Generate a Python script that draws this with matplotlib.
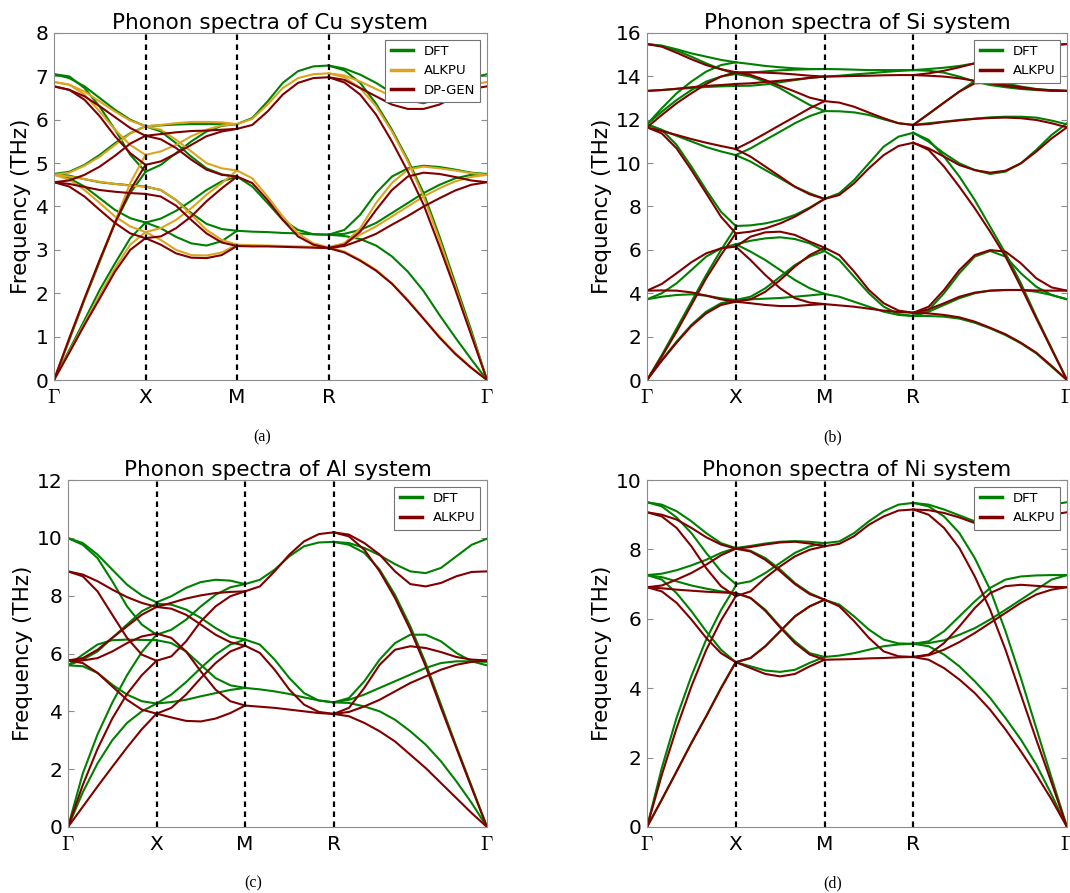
import numpy as np
from matplotlib import pyplot as plt

plt.rcParams['mathtext.fontset'] = 'cm'

# high symmetry path Gamma-X-M-R-Gamma (segment lengths in 2pi/a)
seg_len = [0.5, 0.5, 0.5, 0.866]
kpos = np.concatenate([[0], np.cumsum(seg_len)])
klabels = [r'$\Gamma$', 'X', 'M', 'R', r'$\Gamma$']

# ---------------- Cu (THz) ----------------
cu_dft_gx = [[7.05, 6.96, 6.77, 6.5, 6.23, 6.0, 5.85],
             [7.05, 7.0, 6.73, 6.3, 5.77, 5.19, 4.8],
             [4.75, 4.8, 4.96, 5.19, 5.46, 5.69, 5.85],
             [4.75, 4.71, 4.63, 4.56, 4.52, 4.49, 4.46],
             [4.75, 4.65, 4.46, 4.19, 3.92, 3.73, 3.63],
             [0, 0.92, 1.85, 2.73, 3.62, 4.31, 4.8],
             [0, 0.69, 1.38, 2.08, 2.69, 3.27, 3.63]]
cu_dft_xm = [[5.85, 5.87, 5.89, 5.9, 5.9, 5.9, 5.9],
             [5.85, 5.73, 5.46, 5.15, 4.88, 4.74, 4.69],
             [4.8, 4.96, 5.23, 5.5, 5.73, 5.86, 5.9],
             [4.46, 4.38, 4.15, 3.85, 3.6, 3.48, 3.44],
             [3.63, 3.72, 3.9, 4.13, 4.38, 4.58, 4.69],
             [3.63, 3.5, 3.3, 3.15, 3.1, 3.2, 3.44]]
cu_dft_mr = [[5.9, 6.04, 6.42, 6.85, 7.12, 7.23, 7.25],
             [4.69, 4.46, 4.08, 3.69, 3.46, 3.36, 3.35],
             [3.44, 3.42, 3.41, 3.39, 3.38, 3.36, 3.35]]
cu_dft_rg = [[7.25, 7.18, 7.04, 6.85, 6.62, 6.45, 6.38, 6.5, 6.73, 6.96, 7.05],
             [7.25, 7.14, 6.85, 6.37, 5.77, 5.08, 4.31, 3.31, 2.23, 1.15, 0],
             [3.35, 3.46, 3.81, 4.31, 4.69, 4.88, 4.94, 4.91, 4.85, 4.78, 4.75],
             [3.35, 3.37, 3.46, 3.62, 3.85, 4.08, 4.31, 4.5, 4.65, 4.73, 4.75],
             [3.35, 3.32, 3.25, 3.1, 2.85, 2.5, 2.05, 1.5, 0.98, 0.48, 0]]

cu_alk_gx = [[6.87, 6.81, 6.65, 6.42, 6.19, 5.98, 5.85],
             [6.87, 6.81, 6.58, 6.19, 5.77, 5.42, 5.19],
             [4.73, 4.78, 4.94, 5.15, 5.42, 5.68, 5.85],
             [4.73, 4.69, 4.63, 4.57, 4.52, 4.48, 4.46],
             [4.73, 4.62, 4.38, 4.08, 3.77, 3.54, 3.41],
             [0, 0.96, 1.88, 2.77, 3.65, 4.54, 5.19],
             [0, 0.65, 1.31, 1.96, 2.58, 3.12, 3.41]]
cu_alk_xm = [[5.85, 5.88, 5.92, 5.95, 5.95, 5.94, 5.9],
             [5.85, 5.77, 5.54, 5.27, 5.0, 4.88, 4.83],
             [5.19, 5.27, 5.42, 5.62, 5.77, 5.87, 5.9],
             [4.46, 4.38, 4.15, 3.81, 3.46, 3.23, 3.12],
             [3.41, 3.5, 3.69, 3.96, 4.27, 4.54, 4.83],
             [3.41, 3.23, 3.0, 2.88, 2.87, 2.94, 3.12]]
cu_alk_mr = [[5.9, 6.02, 6.35, 6.73, 6.96, 7.05, 7.07],
             [4.83, 4.65, 4.23, 3.77, 3.38, 3.15, 3.06],
             [3.12, 3.11, 3.1, 3.09, 3.08, 3.07, 3.06]]
cu_alk_rg = [[7.07, 7.02, 6.88, 6.71, 6.54, 6.45, 6.42, 6.5, 6.65, 6.81, 6.87],
             [7.07, 6.98, 6.73, 6.31, 5.73, 5.04, 4.23, 3.23, 2.15, 1.08, 0],
             [3.06, 3.15, 3.5, 4.08, 4.54, 4.85, 4.92, 4.88, 4.83, 4.77, 4.73],
             [3.06, 3.15, 3.35, 3.54, 3.77, 4.0, 4.23, 4.42, 4.58, 4.68, 4.73],
             [3.06, 2.96, 2.77, 2.54, 2.23, 1.85, 1.42, 1.0, 0.62, 0.29, 0]]

cu_dp_gx = [[6.77, 6.69, 6.54, 6.31, 6.06, 5.81, 5.63],
            [6.77, 6.69, 6.46, 6.08, 5.62, 5.23, 4.96],
            [4.56, 4.6, 4.73, 4.92, 5.17, 5.45, 5.63],
            [4.56, 4.52, 4.45, 4.38, 4.34, 4.31, 4.29],
            [4.56, 4.46, 4.23, 3.92, 3.62, 3.38, 3.27],
            [0, 0.96, 1.88, 2.77, 3.62, 4.38, 4.96],
            [0, 0.63, 1.27, 1.88, 2.5, 3.0, 3.27]]
cu_dp_xm = [[5.63, 5.67, 5.71, 5.74, 5.75, 5.77, 5.79],
            [5.63, 5.55, 5.35, 5.08, 4.85, 4.73, 4.69],
            [4.96, 5.04, 5.22, 5.42, 5.62, 5.73, 5.79],
            [4.29, 4.23, 4.02, 3.69, 3.38, 3.17, 3.09],
            [3.27, 3.31, 3.5, 3.77, 4.12, 4.42, 4.69],
            [3.27, 3.12, 2.92, 2.82, 2.81, 2.88, 3.09]]
cu_dp_mr = [[5.79, 5.88, 6.19, 6.58, 6.85, 6.96, 6.98],
            [4.69, 4.54, 4.15, 3.69, 3.31, 3.12, 3.04],
            [3.09, 3.08, 3.08, 3.07, 3.06, 3.05, 3.04]]
cu_dp_rg = [[6.98, 6.92, 6.73, 6.54, 6.35, 6.25, 6.25, 6.35, 6.54, 6.71, 6.77],
            [6.98, 6.86, 6.58, 6.12, 5.5, 4.81, 4.04, 3.08, 2.08, 1.04, 0],
            [3.04, 3.12, 3.42, 3.92, 4.38, 4.69, 4.78, 4.75, 4.68, 4.6, 4.56],
            [3.04, 3.09, 3.22, 3.37, 3.58, 3.78, 4.0, 4.19, 4.37, 4.5, 4.56],
            [3.04, 2.94, 2.75, 2.52, 2.22, 1.83, 1.41, 0.98, 0.6, 0.28, 0]]

# ---------------- Si (THz) ----------------
si_dft_gx = [[15.49, 15.42, 15.25, 15.06, 14.91, 14.76, 14.65],
             [15.49, 15.4, 15.19, 14.91, 14.6, 14.33, 14.11],
             [13.33, 13.37, 13.42, 13.46, 13.51, 13.54, 13.56],
             [11.79, 12.53, 13.22, 13.76, 14.22, 14.52, 14.65],
             [11.79, 12.37, 12.91, 13.37, 13.76, 13.99, 14.11],
             [11.79, 11.53, 11.26, 11.0, 10.74, 10.54, 10.37],
             [11.79, 11.53, 10.84, 9.84, 8.76, 7.76, 7.1],
             [3.72, 4.0, 4.46, 5.07, 5.69, 6.07, 6.26],
             [3.72, 3.84, 3.92, 3.95, 3.89, 3.77, 3.69],
             [0, 1.15, 2.38, 3.61, 4.84, 5.99, 7.05],
             [0, 0.92, 1.77, 2.54, 3.15, 3.54, 3.69]]
si_dft_xm = [[14.65, 14.57, 14.48, 14.42, 14.37, 14.34, 14.34],
             [14.11, 14.17, 14.23, 14.28, 14.31, 14.33, 14.34],
             [14.11, 13.99, 13.76, 13.45, 13.06, 12.68, 12.4],
             [13.56, 13.57, 13.63, 13.73, 13.83, 13.93, 13.99],
             [10.37, 10.68, 11.07, 11.45, 11.84, 12.17, 12.4],
             [10.37, 10.07, 9.68, 9.3, 8.91, 8.61, 8.35],
             [7.1, 7.13, 7.22, 7.38, 7.61, 7.95, 8.35],
             [6.26, 6.42, 6.53, 6.58, 6.5, 6.3, 5.95],
             [6.26, 5.92, 5.53, 5.07, 4.61, 4.23, 3.97],
             [3.69, 3.84, 4.23, 4.76, 5.3, 5.69, 5.95],
             [3.69, 3.72, 3.75, 3.78, 3.84, 3.9, 3.97]]
si_dft_mr = [[14.34, 14.33, 14.31, 14.29, 14.29, 14.29, 14.29],
             [13.99, 14.03, 14.09, 14.14, 14.2, 14.25, 14.29],
             [12.4, 12.39, 12.34, 12.22, 12.02, 11.84, 11.76],
             [8.35, 8.61, 9.22, 9.99, 10.76, 11.22, 11.4],
             [5.95, 5.53, 4.76, 4.0, 3.38, 3.04, 2.95],
             [3.97, 3.84, 3.61, 3.38, 3.15, 3.0, 2.95]]
si_dft_rg = [[14.29, 14.34, 14.4, 14.48, 14.6, 14.76, 14.94, 15.12, 15.29, 15.43, 15.49],
             [14.29, 14.26, 14.17, 13.99, 13.76, 13.6, 13.5, 13.42, 13.37, 13.34, 13.33],
             [11.76, 12.27, 12.79, 13.3, 13.79, 13.83, 13.68, 13.53, 13.42, 13.36, 13.33],
             [11.76, 11.84, 11.91, 11.99, 12.05, 12.11, 12.14, 12.14, 12.1, 11.96, 11.79],
             [11.4, 10.99, 10.45, 9.99, 9.68, 9.5, 9.61, 9.99, 10.61, 11.3, 11.84],
             [11.4, 11.07, 10.3, 9.38, 8.3, 7.07, 5.84, 4.46, 2.92, 1.46, 0],
             [2.95, 3.23, 4.0, 4.92, 5.69, 5.95, 5.69, 4.92, 4.3, 3.92, 3.72],
             [2.95, 3.15, 3.46, 3.77, 4.0, 4.12, 4.15, 4.15, 4.07, 3.92, 3.72],
             [2.95, 2.95, 2.92, 2.83, 2.64, 2.38, 2.07, 1.69, 1.23, 0.61, 0]]

si_alk_gx = [[15.49, 15.37, 15.09, 14.79, 14.52, 14.33, 14.19],
             [13.33, 13.37, 13.43, 13.5, 13.56, 13.6, 13.65],
             [11.65, 12.22, 12.76, 13.22, 13.65, 13.99, 14.19],
             [11.65, 11.48, 11.3, 11.11, 10.94, 10.79, 10.65],
             [11.65, 11.37, 10.68, 9.68, 8.61, 7.53, 6.76],
             [4.12, 4.43, 4.92, 5.43, 5.84, 6.07, 6.15],
             [4.12, 4.13, 4.12, 4.04, 3.89, 3.72, 3.61],
             [0, 1.08, 2.23, 3.46, 4.69, 5.76, 6.76],
             [0, 0.89, 1.72, 2.49, 3.07, 3.46, 3.61]]
si_alk_xm = [[14.19, 14.19, 14.17, 14.14, 14.09, 14.03, 13.99],
             [14.19, 14.06, 13.83, 13.56, 13.3, 13.02, 12.86],
             [13.65, 13.68, 13.74, 13.8, 13.86, 13.93, 13.99],
             [10.65, 10.99, 11.37, 11.76, 12.14, 12.53, 12.86],
             [10.65, 10.3, 9.84, 9.38, 8.91, 8.56, 8.35],
             [6.76, 6.84, 6.99, 7.22, 7.53, 7.92, 8.35],
             [6.15, 6.61, 6.81, 6.84, 6.69, 6.38, 6.1],
             [6.15, 5.53, 4.84, 4.23, 3.77, 3.57, 3.5],
             [3.61, 3.72, 4.07, 4.61, 5.23, 5.76, 6.1],
             [3.61, 3.54, 3.46, 3.41, 3.41, 3.46, 3.5]]
si_alk_mr = [[13.99, 14.0, 14.02, 14.03, 14.05, 14.06, 14.06],
             [12.86, 12.79, 12.6, 12.33, 12.07, 11.84, 11.76],
             [8.35, 8.53, 9.07, 9.76, 10.37, 10.79, 10.94],
             [6.1, 5.76, 5.0, 4.15, 3.54, 3.2, 3.1],
             [3.5, 3.44, 3.38, 3.29, 3.2, 3.14, 3.1]]
si_alk_rg = [[14.06, 14.14, 14.26, 14.42, 14.6, 14.79, 14.99, 15.17, 15.34, 15.45, 15.49],
             [14.06, 14.03, 13.99, 13.91, 13.8, 13.68, 13.56, 13.46, 13.39, 13.34, 13.33],
             [11.76, 12.27, 12.79, 13.3, 13.68, 13.71, 13.6, 13.5, 13.4, 13.36, 13.33],
             [11.76, 11.8, 11.9, 11.97, 12.04, 12.08, 12.1, 12.07, 11.99, 11.84, 11.65],
             [10.94, 10.68, 10.3, 9.91, 9.68, 9.56, 9.65, 9.99, 10.53, 11.14, 11.65],
             [10.94, 10.61, 9.84, 8.91, 7.92, 6.84, 5.69, 4.3, 2.84, 1.41, 0],
             [3.1, 3.38, 4.15, 5.07, 5.76, 5.99, 5.92, 5.38, 4.69, 4.27, 4.12],
             [3.1, 3.26, 3.54, 3.84, 4.03, 4.12, 4.15, 4.15, 4.13, 4.12, 4.12],
             [3.1, 3.07, 3.0, 2.89, 2.69, 2.41, 2.11, 1.72, 1.26, 0.65, 0]]

# ---------------- Al (THz) ----------------
al_dft_gx = [[9.99, 9.82, 9.42, 8.9, 8.38, 8.01, 7.77],
             [9.99, 9.76, 9.3, 8.5, 7.63, 7.0, 6.65],
             [5.59, 5.79, 6.07, 6.54, 7.0, 7.46, 7.72],
             [5.59, 5.96, 6.31, 6.46, 6.48, 6.47, 6.46],
             [5.59, 5.56, 5.33, 4.92, 4.58, 4.35, 4.27],
             [0, 1.85, 3.2, 4.3, 5.25, 6.05, 6.65],
             [0, 1.2, 2.2, 3.0, 3.6, 4.0, 4.27]]
al_dft_xm = [[7.77, 7.98, 8.27, 8.47, 8.55, 8.52, 8.4],
             [7.72, 7.69, 7.52, 7.23, 6.88, 6.59, 6.48],
             [6.65, 6.82, 7.17, 7.63, 8.03, 8.29, 8.4],
             [6.46, 6.36, 6.07, 5.61, 5.15, 4.9, 4.81],
             [4.27, 4.58, 5.01, 5.5, 5.96, 6.31, 6.48],
             [4.27, 4.32, 4.4, 4.52, 4.63, 4.74, 4.81]]
al_dft_mr = [[8.4, 8.55, 8.9, 9.36, 9.71, 9.84, 9.86],
             [6.48, 6.31, 5.79, 5.15, 4.63, 4.37, 4.31],
             [4.81, 4.76, 4.69, 4.6, 4.48, 4.38, 4.31]]
al_dft_rg = [[9.86, 9.82, 9.65, 9.4, 9.09, 8.84, 8.78, 8.96, 9.36, 9.76, 9.97],
             [9.86, 9.76, 9.48, 8.9, 8.03, 6.94, 5.67, 4.23, 2.79, 1.41, 0],
             [4.31, 4.46, 5.04, 5.79, 6.36, 6.65, 6.65, 6.42, 6.02, 5.73, 5.59],
             [4.31, 4.4, 4.58, 4.81, 5.04, 5.27, 5.5, 5.67, 5.73, 5.73, 5.71],
             [4.31, 4.29, 4.17, 4.0, 3.71, 3.31, 2.85, 2.27, 1.58, 0.83, 0]]

al_alk_gx = [[8.84, 8.73, 8.5, 8.21, 7.95, 7.75, 7.61],
             [8.84, 8.67, 8.15, 7.34, 6.54, 5.96, 5.75],
             [5.76, 5.84, 6.13, 6.54, 6.94, 7.34, 7.61],
             [5.76, 5.76, 5.84, 6.07, 6.36, 6.59, 6.69],
             [5.76, 5.67, 5.33, 4.86, 4.4, 4.06, 3.92],
             [0, 1.45, 2.7, 3.75, 4.6, 5.25, 5.75],
             [0, 0.7, 1.4, 2.08, 2.75, 3.38, 3.92]]
al_alk_xm = [[7.61, 7.75, 7.9, 8.01, 8.09, 8.13, 8.15],
             [7.61, 7.55, 7.34, 7.0, 6.65, 6.39, 6.27],
             [5.75, 5.9, 6.42, 7.11, 7.63, 7.98, 8.15],
             [6.69, 6.54, 6.07, 5.38, 4.75, 4.35, 4.2],
             [3.92, 4.12, 4.58, 5.15, 5.67, 6.07, 6.27],
             [3.92, 3.79, 3.67, 3.65, 3.75, 3.94, 4.2]]
al_alk_mr = [[8.15, 8.32, 8.84, 9.42, 9.88, 10.13, 10.19],
             [6.27, 6.02, 5.44, 4.75, 4.23, 3.98, 3.91],
             [4.2, 4.16, 4.12, 4.06, 4.0, 3.94, 3.91]]
al_alk_rg = [[10.19, 10.11, 9.82, 9.42, 8.84, 8.4, 8.32, 8.44, 8.67, 8.82, 8.84],
             [10.19, 10.05, 9.59, 8.84, 7.92, 6.82, 5.56, 4.12, 2.73, 1.35, 0],
             [3.91, 4.12, 4.81, 5.61, 6.13, 6.25, 6.19, 6.05, 5.88, 5.79, 5.76],
             [3.91, 3.98, 4.17, 4.4, 4.69, 4.98, 5.21, 5.44, 5.61, 5.71, 5.76],
             [3.91, 3.83, 3.6, 3.31, 2.96, 2.5, 2.04, 1.52, 1.0, 0.48, 0]]

# ---------------- Ni (THz) ----------------
ni_dft_gx = [[9.36, 9.29, 9.1, 8.81, 8.47, 8.18, 8.04],
             [9.36, 9.24, 8.92, 8.47, 7.9, 7.37, 7.0],
             [7.26, 7.3, 7.4, 7.54, 7.7, 7.9, 8.04],
             [7.26, 7.2, 7.08, 6.96, 6.87, 6.79, 6.74],
             [7.26, 7.13, 6.74, 6.22, 5.64, 5.11, 4.75],
             [0, 1.7, 3.15, 4.35, 5.4, 6.25, 6.95],
             [0, 0.79, 1.6, 2.42, 3.19, 4.01, 4.75]]
ni_dft_xm = [[8.04, 8.1, 8.17, 8.22, 8.24, 8.22, 8.18],
             [8.04, 7.96, 7.75, 7.42, 7.03, 6.74, 6.55],
             [7.0, 7.08, 7.32, 7.61, 7.9, 8.09, 8.18],
             [6.74, 6.6, 6.26, 5.78, 5.35, 5.01, 4.9],
             [4.75, 4.87, 5.21, 5.64, 6.07, 6.36, 6.55],
             [4.75, 4.63, 4.51, 4.47, 4.53, 4.73, 4.9]]
ni_dft_mr = [[8.18, 8.23, 8.47, 8.81, 9.1, 9.29, 9.34],
             [6.55, 6.41, 6.07, 5.69, 5.4, 5.29, 5.28],
             [4.9, 4.94, 5.01, 5.11, 5.21, 5.26, 5.28]]
ni_dft_rg = [[9.34, 9.29, 9.15, 8.98, 8.81, 8.69, 8.71, 8.86, 9.1, 9.29, 9.36],
             [9.34, 9.24, 8.95, 8.47, 7.75, 6.84, 5.64, 4.29, 2.85, 1.41, 0],
             [5.28, 5.35, 5.64, 6.07, 6.5, 6.89, 7.13, 7.22, 7.25, 7.26, 7.26],
             [5.28, 5.3, 5.38, 5.54, 5.73, 5.98, 6.26, 6.55, 6.84, 7.13, 7.26],
             [5.28, 5.21, 4.97, 4.63, 4.2, 3.72, 3.14, 2.52, 1.8, 0.93, 0]]

ni_alk_gx = [[9.07, 9.0, 8.86, 8.62, 8.35, 8.14, 8.02],
             [9.07, 8.95, 8.62, 8.09, 7.46, 6.94, 6.65],
             [6.91, 6.96, 7.13, 7.32, 7.56, 7.83, 8.02],
             [6.91, 6.88, 6.84, 6.81, 6.78, 6.76, 6.74],
             [6.91, 6.79, 6.46, 5.98, 5.45, 5.01, 4.75],
             [0, 1.5, 2.85, 4.05, 5.1, 5.95, 6.65],
             [0, 0.79, 1.6, 2.42, 3.19, 3.99, 4.75]]
ni_alk_xm = [[8.02, 8.07, 8.14, 8.2, 8.22, 8.17, 8.09],
             [8.02, 7.94, 7.7, 7.37, 7.0, 6.71, 6.55],
             [6.65, 6.79, 7.18, 7.51, 7.8, 7.99, 8.09],
             [6.74, 6.6, 6.23, 5.75, 5.3, 4.97, 4.82],
             [4.75, 4.87, 5.21, 5.64, 6.07, 6.36, 6.55],
             [4.75, 4.58, 4.41, 4.34, 4.41, 4.63, 4.82]]
ni_alk_mr = [[8.09, 8.16, 8.38, 8.71, 8.95, 9.12, 9.15],
             [6.55, 6.36, 5.93, 5.45, 5.06, 4.92, 4.9],
             [4.82, 4.83, 4.84, 4.86, 4.87, 4.89, 4.9]]
ni_alk_rg = [[9.15, 9.13, 9.05, 8.92, 8.76, 8.62, 8.6, 8.66, 8.83, 9.0, 9.07],
             [9.15, 9.0, 8.62, 8.04, 7.22, 6.26, 5.11, 3.81, 2.52, 1.27, 0],
             [4.9, 4.97, 5.3, 5.78, 6.31, 6.74, 6.94, 6.98, 6.95, 6.92, 6.91],
             [4.9, 4.95, 5.11, 5.33, 5.59, 5.88, 6.17, 6.46, 6.7, 6.84, 6.91],
             [4.9, 4.82, 4.58, 4.25, 3.86, 3.38, 2.81, 2.18, 1.51, 0.79, 0]]

GREEN = '#008000'
GOLD = '#DAA520'
MAROON = '#800000'


def draw_bands(ax, segs, color, label):
    for i, bands in enumerate(segs):
        for b in bands:
            x = np.linspace(kpos[i], kpos[i + 1], len(b))
            ax.plot(x, b, color=color, lw=1.5)
    ax.plot([], [], color=color, lw=2.5, label=label)


def setup(ax, name, ymax, ystep):
    for k in kpos[1:-1]:
        ax.axvline(k, color='k', ls=(0, (2.5, 2)), lw=1.6)
    ax.set_xlim(kpos[0], kpos[-1])
    ax.set_ylim(0, ymax)
    ax.set_xticks(kpos)
    ax.set_xticklabels(klabels)
    ax.set_yticks(np.arange(0, ymax + 0.01, ystep))
    ax.tick_params(axis='y', direction='in', right=True, length=4,
                   color='0.55', labelsize=14.5, pad=4)
    ax.tick_params(axis='x', length=0, labelsize=14.5, pad=6)
    for s in ax.spines.values():
        s.set_color('0.55')
    ax.set_ylabel('Frequency (THz)', fontsize=15.5, labelpad=3)
    ax.set_title('Phonon spectra of %s system' % name, fontsize=15.5, pad=2)
    leg = ax.legend(loc='upper right', fontsize=9.5, fancybox=False,
                    edgecolor='0.45', framealpha=1, handlelength=1.7,
                    borderaxespad=0.5, labelspacing=0.5)
    leg.get_frame().set_linewidth(0.8)


fig = plt.figure(figsize=(10.7, 8.93), dpi=100)

ax_a = fig.add_axes([54 / 1070, 1 - 380 / 893, 433 / 1070, 347 / 893])
draw_bands(ax_a, [cu_dft_gx, cu_dft_xm, cu_dft_mr, cu_dft_rg], GREEN, 'DFT')
draw_bands(ax_a, [cu_alk_gx, cu_alk_xm, cu_alk_mr, cu_alk_rg], GOLD, 'ALKPU')
draw_bands(ax_a, [cu_dp_gx, cu_dp_xm, cu_dp_mr, cu_dp_rg], MAROON, 'DP-GEN')
setup(ax_a, 'Cu', 8, 1)

ax_b = fig.add_axes([647 / 1070, 1 - 380 / 893, 420 / 1070, 347 / 893])
draw_bands(ax_b, [si_dft_gx, si_dft_xm, si_dft_mr, si_dft_rg], GREEN, 'DFT')
draw_bands(ax_b, [si_alk_gx, si_alk_xm, si_alk_mr, si_alk_rg], MAROON, 'ALKPU')
setup(ax_b, 'Si', 16, 2)

ax_c = fig.add_axes([68 / 1070, 1 - 827 / 893, 419 / 1070, 347 / 893])
draw_bands(ax_c, [al_dft_gx, al_dft_xm, al_dft_mr, al_dft_rg], GREEN, 'DFT')
draw_bands(ax_c, [al_alk_gx, al_alk_xm, al_alk_mr, al_alk_rg], MAROON, 'ALKPU')
setup(ax_c, 'Al', 12, 2)

ax_d = fig.add_axes([647 / 1070, 1 - 827 / 893, 420 / 1070, 347 / 893])
draw_bands(ax_d, [ni_dft_gx, ni_dft_xm, ni_dft_mr, ni_dft_rg], GREEN, 'DFT')
draw_bands(ax_d, [ni_alk_gx, ni_alk_xm, ni_alk_mr, ni_alk_rg], MAROON, 'ALKPU')
setup(ax_d, 'Ni', 10, 2)

for txt, x, y in [('(a)', 262, 437), ('(b)', 833, 437), ('(c)', 253, 883), ('(d)', 833, 883)]:
    fig.text(x / 1070, 1 - y / 893, txt, ha='center', va='center',
             family='Liberation Serif', fontsize=11.5)

fig.savefig('out.png', dpi=100)
